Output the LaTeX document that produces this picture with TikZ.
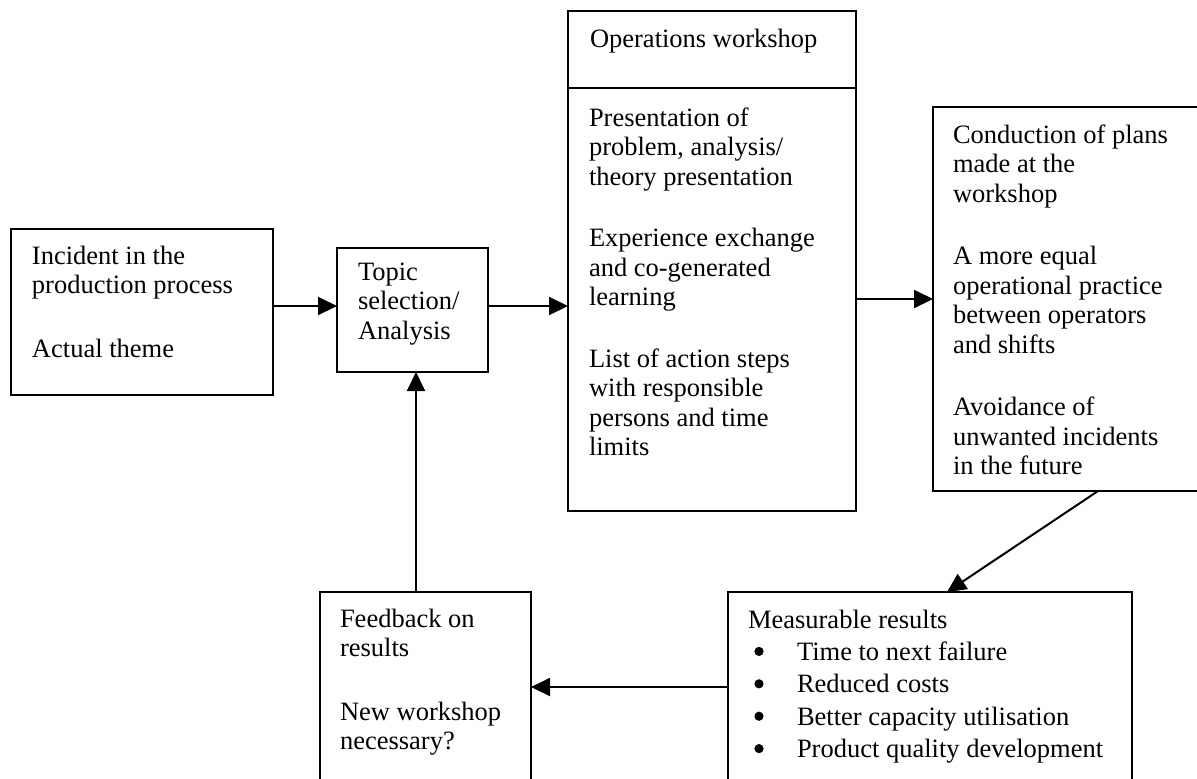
\documentclass[tikz,border=0pt]{standalone}
\usepackage{fontspec}
\setmainfont{Liberation Serif}
\usetikzlibrary{arrows.meta}

% indent of a list item, the bullets are drawn separately
\newcommand{\listindent}{\hspace*{24.5pt}}

\begin{document}
\begin{tikzpicture}[x=0.5pt, y=-0.5pt,
  box/.style={draw, line width=1pt, rectangle, inner sep=0pt, outer sep=0pt},
  txt/.style={anchor=north west, inner sep=0pt, outer sep=0pt, align=left,
              font=\fontsize{13.25pt}{14.75pt}\selectfont},
  arr/.style={line width=1pt, -{Triangle[length=9.5pt, width=9pt]}},
  bullet/.style={fill=black}
]
\useasboundingbox (0,0) rectangle (1197,778);
\begin{scope}
\clip (0,0) rectangle (1197,778);

% boxes
\node[box, minimum width=131pt, minimum height=83pt]   (inc)   at (142,312)    {};
\node[box, minimum width=75.5pt, minimum height=62pt]  (topic) at (412.5,310)  {};
\node[box, minimum width=144pt, minimum height=250pt]  (ops)   at (712,261)    {};
\node[box, minimum width=153.5pt, minimum height=192pt] (cond) at (1086.5,299) {};
\node[box, minimum width=202pt, minimum height=114pt]  (meas)  at (930,706)    {};
\node[box, minimum width=105.5pt, minimum height=114pt] (feed) at (425.5,706)  {};

% divider under the workshop title
\coordinate (div) at (712,88);
\draw[line width=1pt] (ops.west |- div) -- (ops.east |- div);

% texts
\node[txt] (tinc) at (32,240)
  {\rule{0pt}{12pt}Incident in the\\production process\\[17pt]Actual theme};
\node[txt] (ttopic) at (358,256)
  {\rule{0pt}{12pt}Topic\\selection/\\Analysis};
\node[txt] (topshead) at (590,23)
  {\rule{0pt}{12pt}Operations workshop};
\node[txt] (topsbody) at (589,102)
  {\rule{0pt}{12pt}Presentation of\\problem, analysis/\\theory presentation\\[16pt]%
   Experience exchange\\and co-generated\\learning\\[16pt]%
   List of action steps\\with responsible\\persons and time\\limits};
\node[txt] (tcond) at (953,119)
  {\rule{0pt}{12pt}Conduction of plans\\made at the\\workshop\\[16.5pt]%
   A more equal\\operational practice\\between operators\\and shifts\\[16.5pt]%
   Avoidance of\\unwanted incidents\\in the future};
\node[txt, font=\fontsize{13.25pt}{16.2pt}\selectfont] (tmeas) at (748,604)
  {\rule{0pt}{12pt}Measurable results\\
   \listindent Time to next failure\\
   \listindent Reduced costs\\
   \listindent Better capacity utilisation\\
   \listindent Product quality development};
\node[txt] (tfeed) at (340,603)
  {\rule{0pt}{12pt}Feedback on\\results\\[17pt]New workshop\\necessary?};

% list bullets
\foreach \b in {651.4, 683.8, 716.2, 748.6}
  \fill[bullet] (759,\b) circle (2.3pt);

% connector rows and columns
\coordinate (r1) at (0,306);
\coordinate (r3) at (0,299);
\coordinate (r5) at (0,687);
\coordinate (c4s) at (1098,0);
\coordinate (c4e) at (947,0);
\coordinate (c6) at (416,0);

% connectors
\draw[arr] (inc.east |- r1) -- (topic.west |- r1);
\draw[arr] (topic.east |- r1) -- (ops.west |- r1);
\draw[arr] (ops.east |- r3) -- (cond.west |- r3);
\draw[arr] (c4s |- cond.south) -- (c4e |- meas.north);
\draw[arr] (meas.west |- r5) -- (feed.east |- r5);
\draw[arr] (c6 |- feed.north) -- (c6 |- topic.south);
\end{scope}
\end{tikzpicture}
\end{document}
